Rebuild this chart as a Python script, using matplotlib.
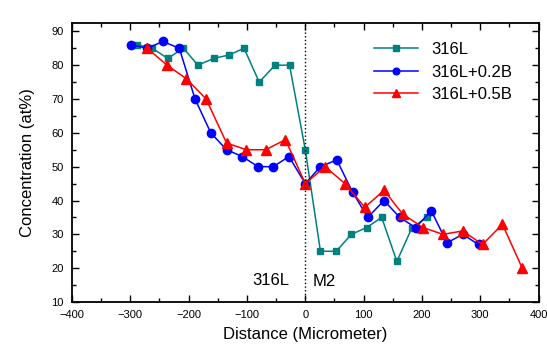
import matplotlib
matplotlib.use("Agg")
import matplotlib.pyplot as plt
from matplotlib.ticker import MultipleLocator

plt.rcParams['font.family'] = ['Liberation Sans', 'DejaVu Sans']

x_316L = [-288, -262, -236, -209, -184, -157, -131, -105, -79, -52, -27, 0, 26, 53, 79, 105, 131, 157, 183, 209]
y_316L = [86, 85, 82, 85, 80, 82, 83, 85, 75, 80, 80, 55, 25, 25, 30, 32, 35, 22, 32, 35]

x_02B = [-298, -271, -244, -216, -189, -162, -135, -108, -81, -55, -28, 0, 26, 54, 81, 107, 135, 162, 189, 216, 243, 270, 297]
y_02B = [86, 85, 87, 85, 70, 60, 55, 53, 50, 50, 53, 45, 50, 52, 42.5, 35, 40, 35, 32, 37, 27.5, 30, 27]

x_05B = [-271, -237, -204, -170, -135, -101, -68, -34, 0, 34, 68, 102, 135, 167, 202, 236, 270, 304, 338, 372]
y_05B = [85, 80, 76, 70, 57, 55, 55, 58, 45, 50, 45, 38, 43, 36, 32, 30, 31, 27, 33, 20]

fig = plt.figure(figsize=(5.47, 3.52), dpi=100)
ax = fig.add_axes([0.1316, 0.142, 0.853, 0.793])

ax.plot(x_316L, y_316L, color='#008080', marker='s', markersize=5, lw=1.1, label='316L')
ax.plot(x_02B, y_02B, color='#0000FF', marker='o', markersize=6, lw=1.1, label='316L+0.2B')
ax.plot(x_05B, y_05B, color='#FF0000', marker='^', markersize=6.5, lw=1.1, label='316L+0.5B')

ax.axvline(0, color='black', linestyle=':', lw=1.0)
ax.text(-59, 16.3, '316L', fontsize=12, ha='center', va='center')
ax.text(33, 16.0, 'M2', fontsize=12, ha='center', va='center')

ax.set_xlim(-400, 400)
ax.set_ylim(10, 92.5)
ax.xaxis.set_major_locator(MultipleLocator(100))
ax.xaxis.set_minor_locator(MultipleLocator(50))
ax.yaxis.set_major_locator(MultipleLocator(10))
ax.yaxis.set_minor_locator(MultipleLocator(5))
ax.tick_params(which='both', direction='in', top=True, right=True, labelsize=8)
ax.tick_params(which='major', length=5, width=1, pad=6)
ax.tick_params(which='minor', length=3, width=1)
for s in ax.spines.values():
    s.set_linewidth(1.3)

ax.set_xlabel('Distance (Micrometer)', fontsize=12, labelpad=5)
ax.set_ylabel('Concentration (at%)', fontsize=12, labelpad=12)

ax.legend(loc='upper right', frameon=False, fontsize=12, bbox_to_anchor=(0.975, 0.985),
          handlelength=2.6, markerscale=0.8, labelspacing=0.45)

fig.savefig('out.png', dpi=100)
